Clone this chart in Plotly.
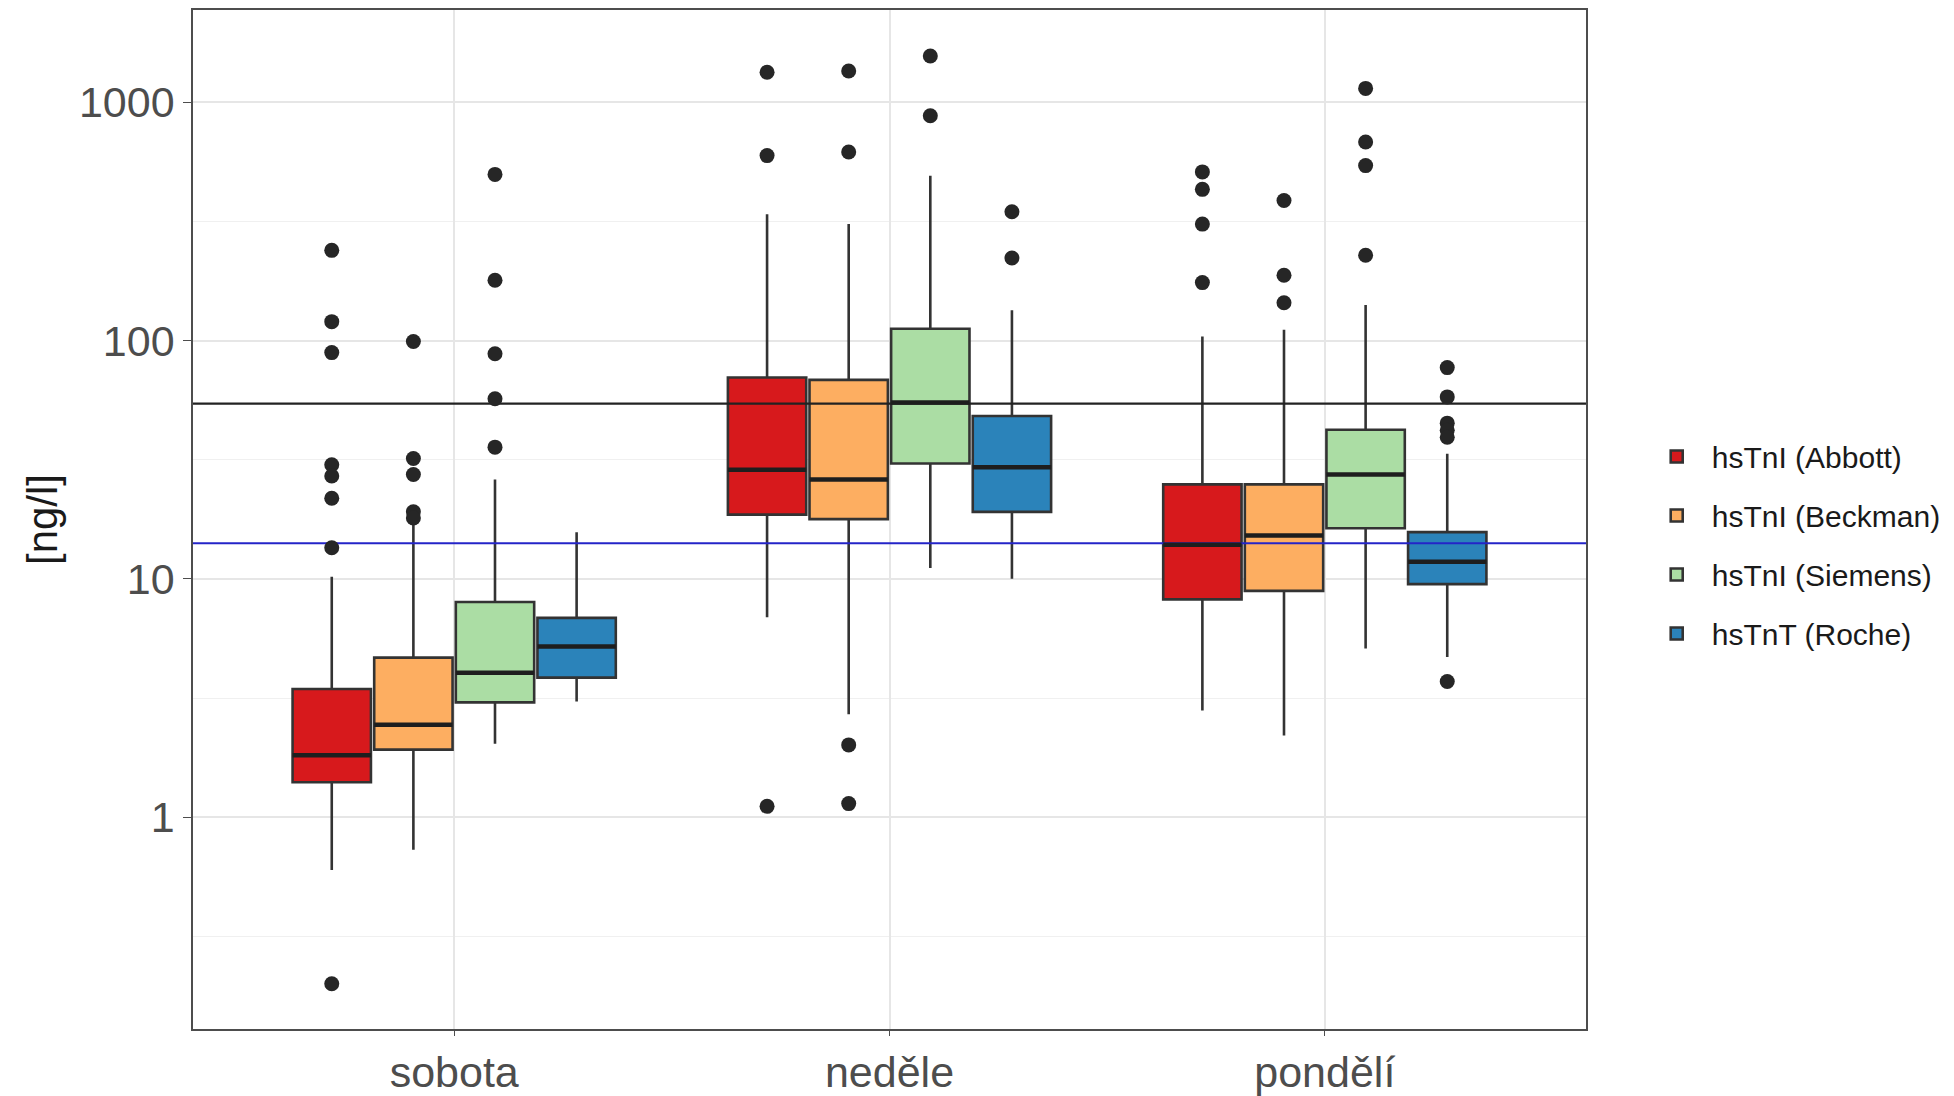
import plotly.graph_objects as go

categories = ["sobota", "neděle", "pondělí"]
series = ["hsTnI (Abbott)", "hsTnI (Beckman)", "hsTnI (Siemens)", "hsTnT (Roche)"]
colors = ["#D7191C", "#FDAE61", "#ABDDA4", "#2B83BA"]

# per series: values for [sobota, neděle, pondělí]
q1 = {
    "hsTnI (Abbott)": [1.40, 18.6, 8.2],
    "hsTnI (Beckman)": [1.92, 17.8, 8.9],
    "hsTnI (Siemens)": [3.03, 30.5, 16.3],
    "hsTnT (Roche)": [3.85, 19.1, 9.5],
}
median = {
    "hsTnI (Abbott)": [1.82, 28.7, 13.9],
    "hsTnI (Beckman)": [2.44, 26.1, 15.2],
    "hsTnI (Siemens)": [4.04, 55.0, 27.4],
    "hsTnT (Roche)": [5.2, 29.4, 11.8],
}
q3 = {
    "hsTnI (Abbott)": [3.45, 70.0, 24.9],
    "hsTnI (Beckman)": [4.67, 68.4, 24.9],
    "hsTnI (Siemens)": [8.0, 112.0, 42.2],
    "hsTnT (Roche)": [6.86, 48.2, 15.7],
}
lower = {
    "hsTnI (Abbott)": [0.60, 6.9, 2.8],
    "hsTnI (Beckman)": [0.73, 2.7, 2.2],
    "hsTnI (Siemens)": [2.03, 11.1, 5.1],
    "hsTnT (Roche)": [3.06, 10.0, 4.7],
}
upper = {
    "hsTnI (Abbott)": [10.2, 339, 104],
    "hsTnI (Beckman)": [17.1, 308, 111],
    "hsTnI (Siemens)": [26.1, 492, 141],
    "hsTnT (Roche)": [15.7, 134, 33.5],
}
outliers = {
    "hsTnI (Abbott)": [[239, 120, 89, 30.1, 27, 21.8, 13.5, 0.20],
                       [1336, 597, 1.11],
                       [510, 431, 308, 175]],
    "hsTnI (Beckman)": [[99, 32, 27.4, 19.1, 18.0],
                        [1352, 618, 2.01, 1.14],
                        [387, 188, 144]],
    "hsTnI (Siemens)": [[498, 179, 88, 57, 35.7],
                        [1563, 877],
                        [1143, 681, 542, 228]],
    "hsTnT (Roche)": [[],
                      [347, 222],
                      [77, 58, 45, 42, 39.3, 3.71]],
}
ref_black = 54.4
ref_blue = 14.1

DODGE = 0.1875
BOXW = 0.18

fig = go.Figure()

# reference lines drawn first (below the boxes)
fig.add_trace(go.Scatter(x=[-0.6, 2.6], y=[ref_black, ref_black], mode="lines",
                         showlegend=False, hoverinfo="skip",
                         line=dict(color="#222222", width=2.2)))
fig.add_trace(go.Scatter(x=[-0.6, 2.6], y=[ref_blue, ref_blue], mode="lines",
                         showlegend=False, hoverinfo="skip",
                         line=dict(color="#2424C8", width=2)))

for k, s in enumerate(series):
    xs = [i + (k - 1.5) * DODGE for i in range(len(categories))]
    fig.add_trace(go.Box(
        x=xs, q1=q1[s], median=median[s], q3=q3[s],
        lowerfence=lower[s], upperfence=upper[s],
        width=BOXW, name=s, legendgroup=s, whiskerwidth=0,
        fillcolor=colors[k], line=dict(color="#333333", width=2.6),
        boxpoints=False, hoverinfo="skip",
    ))
    # thicker median line
    mx, my = [], []
    for x, m in zip(xs, median[s]):
        mx += [x - BOXW / 2, x + BOXW / 2, None]
        my += [m, m, None]
    fig.add_trace(go.Scatter(x=mx, y=my, mode="lines", showlegend=False,
                             legendgroup=s, line=dict(color="#1e1e1e", width=4.5),
                             hoverinfo="skip"))
    ox, oy = [], []
    for x, vals in zip(xs, outliers[s]):
        ox += [x] * len(vals)
        oy += vals
    fig.add_trace(go.Scatter(x=ox, y=oy, mode="markers", showlegend=False,
                             legendgroup=s,
                             marker=dict(color="#262626", size=15),
                             hoverinfo="skip"))

minor_vals = [0.316, 3.16, 31.6, 316, 3162]
fig.update_layout(
    width=1946, height=1088,
    margin=dict(l=185, r=368, t=2, b=67),
    paper_bgcolor="white", plot_bgcolor="white",
    font=dict(family="Liberation Sans, Arial, sans-serif", color="#4D4D4D"),
    showlegend=True,
    legend=dict(x=1.04, y=0.475, xanchor="left", yanchor="middle",
                font=dict(size=30, color="#1a1a1a"), tracegroupgap=17,
                traceorder="grouped", itemwidth=60, bgcolor="rgba(0,0,0,0)"),
)
fig.update_xaxes(
    range=[-0.6, 2.6], tickmode="array", tickvals=list(range(len(categories))),
    ticktext=categories, tickfont=dict(size=43, color="#4D4D4D"),
    showgrid=True, gridcolor="#E6E6E6", gridwidth=1.6, automargin=False,
    showline=True, mirror=True, linecolor="#4D4D4D", linewidth=1.6,
    ticks="outside", ticklen=5, tickcolor="#4D4D4D", zeroline=False,
)
fig.update_yaxes(
    type="log", range=[-0.889, 3.387], tickmode="array",
    tickvals=[1, 10, 100, 1000], ticktext=["1", "10", "100", "1000"],
    tickfont=dict(size=43, color="#4D4D4D"), automargin=False,
    showgrid=True, gridcolor="#E6E6E6", gridwidth=1.6,
    minor=dict(tickmode="array", tickvals=minor_vals, showgrid=True,
               gridcolor="#F0F0F0", gridwidth=1, ticks=""),
    showline=True, mirror=True, linecolor="#4D4D4D", linewidth=1.6,
    ticks="outside", ticklen=8, tickcolor="#4D4D4D", zeroline=False,
    title=dict(text="[ng/l]", font=dict(size=42, color="#1a1a1a"), standoff=8),
)

fig.write_html("out.html")
